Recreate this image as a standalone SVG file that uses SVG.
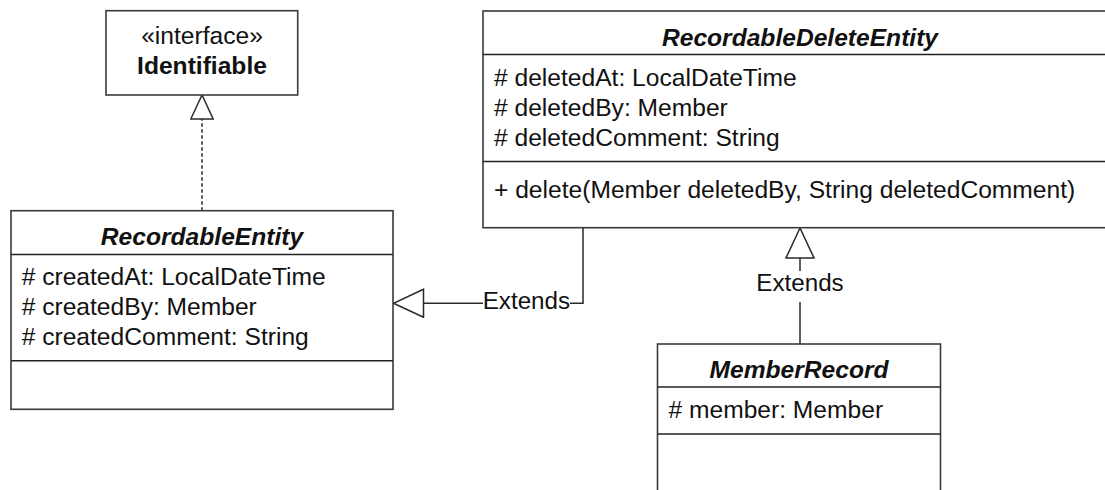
<svg xmlns="http://www.w3.org/2000/svg" width="1105" height="490" viewBox="0 0 1105 490">
<style>
.box{fill:#fff;stroke:#3a3a3a;stroke-width:1.6}
.div{stroke:#222;stroke-width:1.4;fill:none}
.t{font-family:"Liberation Sans",Arial,sans-serif;font-size:24.6px;fill:#111}
.title{font-weight:bold;font-style:italic;text-anchor:middle}
.bold{font-weight:bold;text-anchor:middle}
.mid{text-anchor:middle}
.line{stroke:#2a2a2a;stroke-width:1.5;fill:none}
.lbl{font-family:"Liberation Sans",Arial,sans-serif;font-size:24.2px;fill:#111;text-anchor:middle}
</style>
<defs>
<marker id="tri" markerUnits="userSpaceOnUse" viewBox="0 0 32 30" refX="31" refY="15" markerWidth="32" markerHeight="30" orient="auto">
<path d="M31,15 L1,1 L1,29 Z" fill="#fff" stroke="#2a2a2a" stroke-width="1.5"/>
</marker>
<marker id="triSmall" markerUnits="userSpaceOnUse" viewBox="0 0 26 24" refX="25" refY="12" markerWidth="26" markerHeight="24" orient="auto">
<path d="M25,12 L1,0.8 L1,23.2 Z" fill="#fff" stroke="#2a2a2a" stroke-width="1.5"/>
</marker>
</defs>
<rect width="1105" height="490" fill="#fff"/>

<g id="connectors">
<path class="line" d="M202,210.7 V95" stroke-dasharray="3.5 2.5" stroke-width="1.8" marker-end="url(#triSmall)"/>
<path class="line" d="M583,227.7 V303.3 H393.5" marker-end="url(#tri)"/>
<path class="line" d="M800,344 V228" marker-end="url(#tri)"/>
<rect x="483" y="290" width="87" height="22" fill="#fff"/>
<text class="lbl" x="526.4" y="309.3">Extends</text>
<rect x="756" y="271" width="88" height="31" fill="#fff"/>
<text class="lbl" x="800" y="291">Extends</text>
</g>

<g id="Identifiable">
<rect class="box" x="106" y="10.7" width="191.7" height="84.3"/>
<text class="t mid" x="202" y="44">«interface»</text>
<text class="t bold" x="202" y="74">Identifiable</text>
</g>

<g id="RecordableEntity">
<rect class="box" x="11" y="210.7" width="382" height="198.6"/>
<line class="div" x1="11" y1="254.5" x2="393" y2="254.5"/>
<line class="div" x1="11" y1="360.7" x2="393" y2="360.7"/>
<text class="t title" x="202" y="245">RecordableEntity</text>
<text class="t" x="21.7" y="285"># createdAt: LocalDateTime</text>
<text class="t" x="21.7" y="315"># createdBy: Member</text>
<text class="t" x="21.7" y="344.5"># createdComment: String</text>
</g>

<g id="RecordableDeleteEntity">
<rect class="box" x="483" y="11" width="634" height="216.7"/>
<line class="div" x1="483" y1="54.5" x2="1117" y2="54.5"/>
<line class="div" x1="483" y1="161.5" x2="1117" y2="161.5"/>
<text class="t title" x="800" y="45.7">RecordableDeleteEntity</text>
<text class="t" x="494" y="86"># deletedAt: LocalDateTime</text>
<text class="t" x="494" y="116"># deletedBy: Member</text>
<text class="t" x="494" y="145.7"># deletedComment: String</text>
<text class="t" x="494" y="198.3">+ delete(Member deletedBy, String deletedComment)</text>
</g>

<g id="MemberRecord">
<rect class="box" x="657.5" y="344" width="283" height="160"/>
<line class="div" x1="657.5" y1="387" x2="940.5" y2="387"/>
<line class="div" x1="657.5" y1="434" x2="940.5" y2="434"/>
<text class="t title" x="799" y="377.5">MemberRecord</text>
<text class="t" x="668.5" y="417.5"># member: Member</text>
</g>
</svg>
